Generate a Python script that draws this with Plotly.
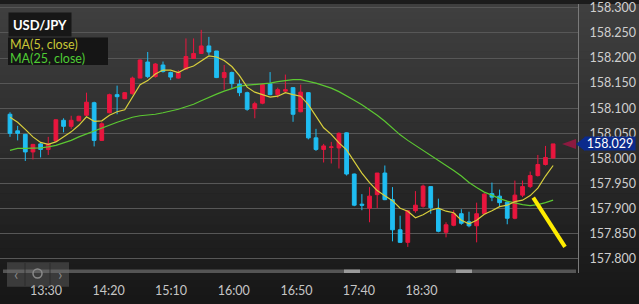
import plotly.graph_objects as go

# ---------------- data ----------------
OPEN = [158.088, 158.055, 158.048, 158.013, 158.029, 158.018, 158.035, 158.076, 158.064, 158.075,
        158.086, 158.111, 158.036, 158.091, 158.127, 158.119, 158.129, 158.160, 158.192, 158.163,
        158.186, 158.171, 158.160, 158.178, 158.199, 158.209, 158.224, 158.214, 158.161, 158.171,
        158.148, 158.131, 158.099, 158.110, 158.149, 158.127, 158.134, 158.141, 158.093, 158.131,
        158.041, 158.018, 158.022, 158.021, 158.051, 157.969, 157.909, 157.901, 157.928, 157.971,
        157.918, 157.858, 157.833, 157.896, 157.905, 157.944, 157.899, 157.853, 157.867, 157.890,
        157.874, 157.866, 157.890, 157.930, 157.925, 157.913, 157.881, 157.927, 157.944, 157.966,
        157.988, 158.001]
HIGH = [158.092, 158.065, 158.049, 158.029, 158.031, 158.043, 158.078, 158.080, 158.085, 158.085,
        158.131, 158.113, 158.072, 158.129, 158.145, 158.132, 158.163, 158.197, 158.212, 158.190,
        158.193, 158.173, 158.176, 158.239, 158.239, 158.256, 158.242, 158.214, 158.186, 158.173,
        158.157, 158.133, 158.113, 158.150, 158.172, 158.141, 158.167, 158.141, 158.147, 158.132,
        158.059, 158.029, 158.033, 158.052, 158.052, 157.970, 157.929, 157.943, 157.971, 157.986,
        157.943, 157.886, 157.897, 157.935, 157.948, 157.944, 157.920, 157.873, 157.897, 157.899,
        157.894, 157.912, 157.931, 157.952, 157.938, 157.915, 157.956, 157.956, 157.974, 158.007,
        158.025, 158.029]
LOW = [158.043, 158.036, 157.995, 157.998, 158.002, 158.007, 158.033, 158.052, 158.059, 158.074,
       158.085, 158.024, 158.035, 158.090, 158.088, 158.118, 158.127, 158.160, 158.160, 158.161,
       158.171, 158.156, 158.159, 158.176, 158.198, 158.208, 158.206, 158.160, 158.137, 158.140,
       158.124, 158.095, 158.080, 158.108, 158.126, 158.121, 158.131, 158.073, 158.092, 158.038,
       158.015, 157.992, 157.990, 157.980, 157.966, 157.905, 157.897, 157.873, 157.901, 157.917,
       157.835, 157.832, 157.824, 157.892, 157.902, 157.890, 157.853, 157.843, 157.865, 157.868,
       157.863, 157.833, 157.889, 157.915, 157.905, 157.869, 157.879, 157.923, 157.941, 157.964,
       157.986, 158.000]
CLOSE = [158.050, 158.050, 158.013, 158.028, 158.018, 158.029, 158.077, 158.064, 158.076, 158.084,
         158.112, 158.036, 158.069, 158.127, 158.123, 158.131, 158.160, 158.196, 158.163, 158.188,
         158.173, 158.162, 158.171, 158.203, 158.209, 158.224, 158.212, 158.161, 158.171, 158.149,
         158.131, 158.098, 158.109, 158.147, 158.127, 158.137, 158.137, 158.088, 158.132, 158.041,
         158.018, 158.025, 158.023, 158.050, 157.969, 157.907, 157.907, 157.925, 157.971, 157.918,
         157.858, 157.833, 157.896, 157.907, 157.945, 157.902, 157.855, 157.868, 157.890, 157.871,
         157.866, 157.890, 157.929, 157.923, 157.912, 157.881, 157.927, 157.944, 157.966, 157.988,
         158.002, 158.029]
MA5 = [158.082, 158.072, 158.058, 158.043, 158.032, 158.028, 158.033, 158.043, 158.053, 158.066,
       158.083, 158.074, 158.075, 158.086, 158.093, 158.097, 158.122, 158.147, 158.155, 158.168,
       158.176, 158.176, 158.171, 158.179, 158.184, 158.194, 158.204, 158.202, 158.195, 158.183,
       158.165, 158.142, 158.132, 158.127, 158.122, 158.124, 158.131, 158.127, 158.124, 158.107,
       158.083, 158.061, 158.048, 158.031, 158.017, 157.995, 157.971, 157.952, 157.936, 157.926,
       157.916, 157.901, 157.895, 157.882, 157.888, 157.897, 157.901, 157.895, 157.892, 157.877,
       157.870, 157.877, 157.889, 157.896, 157.904, 157.907, 157.914, 157.917, 157.926, 157.941,
       157.965, 157.986]
MA25 = [158.016, 158.020, 158.020, 158.020, 158.021, 158.023, 158.026, 158.031, 158.036, 158.043,
        158.049, 158.055, 158.060, 158.066, 158.072, 158.077, 158.082, 158.085, 158.086, 158.088,
        158.091, 158.094, 158.098, 158.103, 158.108, 158.115, 158.122, 158.128, 158.134, 158.139,
        158.144, 158.146, 158.147, 158.148, 158.150, 158.153, 158.155, 158.157, 158.157, 158.154,
        158.150, 158.145, 158.140, 158.133, 158.125, 158.116, 158.107, 158.097, 158.086, 158.074,
        158.061, 158.047, 158.036, 158.026, 158.016, 158.006, 157.997, 157.987, 157.976, 157.965,
        157.952, 157.942, 157.933, 157.927, 157.920, 157.915, 157.911, 157.908, 157.906, 157.908,
        157.912, 157.917]
TICK_LABELS = ["13:30", "14:20", "15:10", "16:00", "16:50", "17:40", "18:30"]
TICK_POS = [4.7, 12.9, 21.05, 29.25, 37.45, 45.6, 53.8]   # in candle-index units
PEN_X = [68.4, 72.55]          # hand-drawn yellow stroke (candle index)
PEN_Y = [157.922, 157.824]     # hand-drawn yellow stroke (price)
SYMBOL = "USD/JPY"

IDX = list(range(len(CLOSE)))

# ---------------- layout helpers (styles/positions) ----------------
W, H = 639, 304
ML, MR, MT, MB = 0, 61, 0, 31
PW, PH = W - ML - MR, H - MT - MB


def px(x):
    return (x - ML) / PW


def py(y):
    return 1 - (y - MT) / PH


RED = "#e8163e"
BLUE = "#1fbdf2"
FONT = "Lato"

fig = go.Figure()

fig.add_trace(go.Candlestick(
    x=IDX, open=OPEN, high=HIGH, low=LOW, close=CLOSE,
    increasing=dict(line=dict(color=RED, width=1), fillcolor=RED),
    decreasing=dict(line=dict(color=BLUE, width=1), fillcolor=BLUE),
    whiskerwidth=0, showlegend=False, hoverinfo="skip"))

fig.add_trace(go.Scatter(x=IDX, y=MA25, mode="lines",
                         line=dict(color="#5cc832", width=1.2), showlegend=False, hoverinfo="skip"))
fig.add_trace(go.Scatter(x=IDX, y=MA5, mode="lines",
                         line=dict(color="#d8cf3c", width=1.2), showlegend=False, hoverinfo="skip"))
fig.add_trace(go.Scatter(x=PEN_X, y=PEN_Y, mode="lines",
                         line=dict(color="#ffec00", width=4), showlegend=False,
                         hoverinfo="skip", cliponaxis=False))

shapes = []
# background vertical gradient (paper coords, below gridlines)
n = 38
top_c, bot_c = 64, 22
for k in range(n):
    y0 = k * H / n
    y1 = (k + 1) * H / n + 0.6
    c = round(top_c + (bot_c - top_c) * (k + 0.5) / n)
    shapes.append(dict(type="rect", xref="paper", yref="paper", layer="below",
                       x0=px(0), x1=px(W), y0=py(y1), y1=py(y0),
                       line=dict(width=0), fillcolor=f"rgb({c},{c},{c})"))
# scrollbar
shapes.append(dict(type="rect", xref="paper", yref="paper", layer="above",
                   x0=px(3), x1=px(576), y0=py(273), y1=py(269.5),
                   line=dict(width=0), fillcolor="#555555"))
for a, b in [(344, 360), (456, 472)]:
    shapes.append(dict(type="rect", xref="paper", yref="paper", layer="above",
                       x0=px(a), x1=px(b), y0=py(273), y1=py(269.5),
                       line=dict(width=0), fillcolor="#9a9a9a"))
# navigation widget
shapes.append(dict(type="rect", xref="paper", yref="paper", layer="above",
                   x0=px(7), x1=px(69), y0=py(287), y1=py(262),
                   line=dict(width=0), fillcolor="rgba(110,110,110,0.4)"))
for sx in (25, 50):
    shapes.append(dict(type="line", xref="paper", yref="paper", layer="above",
                       x0=px(sx), x1=px(sx), y0=py(286), y1=py(263),
                       line=dict(width=1, color="rgba(40,40,40,0.8)")))
shapes.append(dict(type="circle", xref="paper", yref="paper", layer="above",
                   x0=px(33), x1=px(42), y0=py(278), y1=py(269),
                   line=dict(width=1.5, color="#8a8a8a")))
# MA legend box
shapes.append(dict(type="rect", xref="paper", yref="paper", layer="above",
                   x0=px(8), x1=px(108), y0=py(62), y1=py(34),
                   line=dict(width=0), fillcolor="#151515"))
# last-price pointers
shapes.append(dict(type="path", xref="paper", yref="y", layer="above",
                   xsizemode="pixel", ysizemode="pixel", xanchor=px(562), yanchor=CLOSE[-1],
                   path="M0,0 L14,5 L14,-5 Z", fillcolor="#8c1a40", line=dict(width=0)))
shapes.append(dict(type="path", xref="paper", yref="y", layer="above",
                   xsizemode="pixel", ysizemode="pixel", xanchor=px(576), yanchor=CLOSE[-1],
                   path="M0,0 L9,7 L9,-7 Z", fillcolor="#0b2a8c", line=dict(width=0)))

annotations = [
    dict(text=f"<b>{SYMBOL}</b>", xref="paper", yref="paper", x=px(8), y=py(8),
         xanchor="left", yanchor="top", showarrow=False, width=60, height=21,
         bgcolor="#171717", font=dict(family=FONT, size=13, color="#ffffff"), align="center"),
    dict(text="MA(5, close)", xref="paper", yref="paper", x=px(8), y=py(41.5),
         xanchor="left", yanchor="middle", showarrow=False, height=13,
         font=dict(family=FONT, size=12.5, color="#c9c736")),
    dict(text="MA(25, close)", xref="paper", yref="paper", x=px(8), y=py(55),
         xanchor="left", yanchor="middle", showarrow=False, height=13,
         font=dict(family=FONT, size=12.5, color="#4fcc34")),
    dict(text=f"{CLOSE[-1]:.3f}", xref="paper", yref="y", x=px(584), y=CLOSE[-1],
         xanchor="left", yanchor="middle", showarrow=False, width=50, height=13,
         bgcolor="#0b2a8c", borderpad=0,
         font=dict(family=FONT, size=12.5, color="#ffffff")),
    dict(text="‹", xref="paper", yref="paper", x=px(16), y=py(274),
         xanchor="center", yanchor="middle", showarrow=False,
         font=dict(family=FONT, size=16, color="#8a8a8a")),
    dict(text="›", xref="paper", yref="paper", x=px(60), y=py(274),
         xanchor="center", yanchor="middle", showarrow=False,
         font=dict(family=FONT, size=16, color="#8a8a8a")),
]

fig.update_layout(
    width=W, height=H,
    margin=dict(l=ML, r=MR, t=MT, b=MB, pad=0),
    paper_bgcolor="#1c1c1c", plot_bgcolor="rgba(0,0,0,0)",
    showlegend=False, shapes=shapes, annotations=annotations,
    xaxis=dict(range=[-1.307, 74.25], rangeslider=dict(visible=False),
               showgrid=False, zeroline=False, showline=False,
               tickmode="array", tickvals=TICK_POS, ticktext=TICK_LABELS,
               ticks="outside", ticklen=6, tickcolor="rgba(0,0,0,0)",
               tickfont=dict(family=FONT, size=12.5, color="#c6c6c6")),
    yaxis=dict(side="right", range=[157.772, 158.3075], tick0=157.8, dtick=0.05,
               tickformat=".3f", showgrid=True, gridcolor="#575757", gridwidth=1,
               zeroline=False, showline=True, linecolor="#7a7a7a", linewidth=1,
               ticks="outside", ticklen=8, tickcolor="rgba(0,0,0,0)",
               ticklabeloverflow="allow",
               tickfont=dict(family=FONT, size=12.5, color="#cfcfcf")),
)

fig.write_html("out.html")
